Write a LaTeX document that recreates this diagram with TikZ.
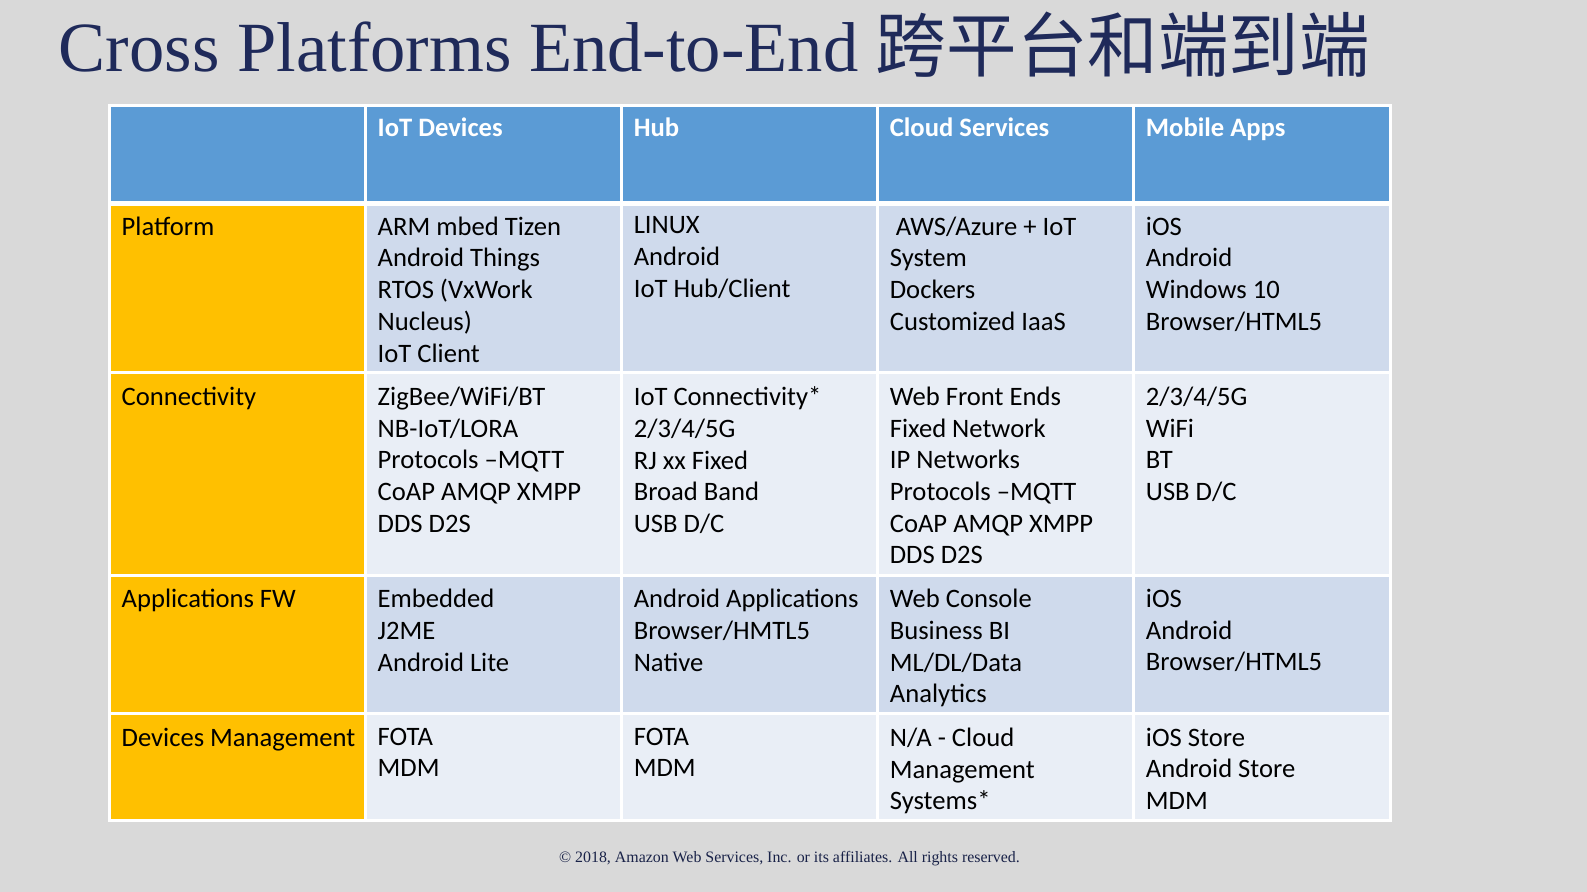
\documentclass[tikz,border=0pt]{standalone}
\usepackage{fontspec}
\setmainfont{Carlito}
\newfontfamily\titlefont{Liberation Serif}
\newfontfamily\cjkfont{Noto Sans CJK SC}
\definecolor{bg}{HTML}{D9D9D9}
\definecolor{hdr}{HTML}{5B9BD5}
\definecolor{yel}{HTML}{FFC000}
\definecolor{rowA}{HTML}{CFDAEC}
\definecolor{rowB}{HTML}{E9EEF6}
\definecolor{navy}{HTML}{1F2A5A}
\tikzset{
  cell/.style={anchor=north west,inner sep=0pt,align=left,font=\fontsize{26.3}{31.3}\selectfont},
  hcell/.style={anchor=north west,inner sep=0pt,text=white,font=\fontsize{26.3}{31}\selectfont\bfseries},
  grid/.style={draw=white,line width=3pt}
}
\begin{document}
\begin{tikzpicture}[x=1pt,y=-1pt]
\fill[bg] (0,0) rectangle (1568,881);
\useasboundingbox (0,0) rectangle (1568,881);
\node[anchor=west,inner sep=0pt,text=navy,font=\fontsize{69.7}{74}\selectfont] (title) at (58,44) {\titlefont Cross Platforms End-to-End \cjkfont 跨平台和端到端};
% fills
\fill[hdr] (108,104) rectangle (1374,200);
\fill[rowA] (108,200) rectangle (1374,368);
\fill[rowB] (108,368) rectangle (1374,569);
\fill[rowA] (108,569) rectangle (1374,705);
\fill[rowB] (108,705) rectangle (1374,811);
\fill[yel] (108,200) rectangle (361,811);
% grid
\foreach \x in {361,614,867,1120} \draw[grid] (\x,104) -- (\x,811);
\foreach \y in {368,569,705} \draw[grid] (108,\y) -- (1374,\y);
\draw[grid,line width=5pt] (108,201) -- (1374,201);
\draw[grid] (108,104) rectangle (1374,811);
% header
\node[hcell] (h1) at (373,116) {IoT Devices};
\node[hcell] (h2) at (626,116) {Hub};
\node[hcell] (h3) at (879,116) {Cloud Services};
\node[hcell] (h4) at (1132,116) {Mobile Apps};
% row labels
\node[cell] (r1) at (120,214) {Platform};
\node[cell] (r2) at (120,382) {Connectivity};
\node[cell] (r3) at (120,582) {Applications FW};
\node[cell] (r4) at (120,719) {Devices Management};
% platform
\node[cell] (c11) at (373,214) {ARM mbed Tizen\\Android Things\\RTOS (VxWork\\Nucleus)\\IoT Client};
\node[cell] (c12) at (626,214) {LINUX\\Android\\IoT Hub/Client};
\node[cell] (c13) at (879,214) {\ AWS/Azure + IoT\\System\\Dockers\\Customized IaaS};
\node[cell] (c14) at (1132,214) {iOS\\Android\\Windows 10\\Browser/HTML5};
% connectivity
\node[cell] (c21) at (373,382) {ZigBee/WiFi/BT\\NB-IoT/LORA\\Protocols --MQTT\\CoAP AMQP XMPP\\DDS D2S};
\node[cell] (c22) at (626,382) {IoT Connectivity*\\2/3/4/5G\\RJ xx Fixed\\Broad Band\\USB D/C};
\node[cell] (c23) at (879,382) {Web Front Ends\\Fixed Network\\IP Networks\\Protocols --MQTT\\CoAP AMQP XMPP\\DDS D2S};
\node[cell] (c24) at (1132,382) {2/3/4/5G\\WiFi\\BT\\USB D/C};
% applications
\node[cell] (c31) at (373,582) {Embedded\\J2ME\\Android Lite};
\node[cell] (c32) at (626,582) {Android Applications\\Browser/HMTL5\\Native};
\node[cell] (c33) at (879,582) {Web Console\\Business BI\\ML/DL/Data\\Analytics};
\node[cell] (c34) at (1132,582) {iOS\\Android\\Browser/HTML5};
% devices mgmt
\node[cell] (c41) at (373,719) {FOTA\\MDM};
\node[cell] (c42) at (626,719) {FOTA\\MDM};
\node[cell] (c43) at (879,719) {N/A - Cloud\\Management\\Systems*};
\node[cell] (c44) at (1132,719) {iOS Store\\Android Store\\MDM};
% footer
\node[inner sep=0pt,text=navy!80!black,font=\titlefont\fontsize{15.7}{18}\selectfont] (foot) at (780,848) {\textcopyright{} 2018, Amazon Web Services, Inc. or its affiliates. All rights reserved.};
\end{tikzpicture}
\end{document}
